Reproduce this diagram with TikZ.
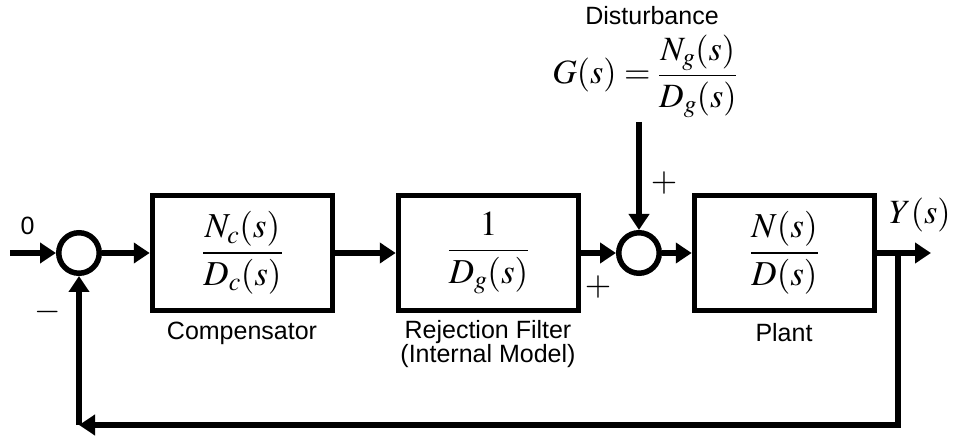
\documentclass[tikz,border=0pt]{standalone}
\usepackage{mathptmx}
\usepackage[no-math]{fontspec}
\setmainfont{Liberation Sans}
\usetikzlibrary{arrows.meta}
\begin{document}
\begin{tikzpicture}[x=1pt, y=-1pt,
	khoi/.style={draw, line width=5.5pt, minimum width=180pt, minimum height=115pt, inner sep=0pt, font=\fontsize{35}{38}\selectfont},
	tong/.style={draw, circle, line width=5.5pt, minimum size=40.5pt, inner sep=0pt},
	tinhieu/.style={line width=6pt, -{Triangle[length=16pt,width=20pt]}},
	chu/.style={font=\fontsize{25}{23}\selectfont, align=center},
	dau/.style={font=\fontsize{34}{36}\selectfont}]
	\useasboundingbox (0,0) rectangle (953,438);
	% Các khối
	\node[tong] (s1) at (79,253) {};
	\node[khoi] (comp) at (242.5,253) {$\displaystyle\frac{N_c(s)}{D_c(s)}$};
	\node[khoi] (filt) at (488.5,253) {$\displaystyle\frac{1}{D_g(s)}$};
	\node[tong] (s2) at (639,253) {};
	\node[khoi] (plant) at (784.5,253) {$\displaystyle\frac{N(s)}{D(s)}$};
	\coordinate (in) at (10,253);
	\coordinate (out) at (931,253);
	\coordinate (tap) at (898,253);
	\coordinate (bot) at (898,425);
	\coordinate (corner) at (s1 |- bot);
	\coordinate (dist) at (639,122);
	% Nhãn
	\node[chu] (lcomp) at (242,333) {Compensator};
	\node[chu] (lfilt) at (488,344) {Rejection Filter\\(Internal Model)};
	\node[chu] (lplant) at (784,333) {Plant};
	\node[chu] (ldist) at (652,16) {Disturbance};
	\node[font=\fontsize{34}{36}\selectfont] (gs) at (645,76) {$\displaystyle G(s)=\frac{N_g(s)}{D_g(s)}$};
	\node[chu] (zero) at (27.5,226) {0};
	\node[font=\fontsize{34}{36}\selectfont] (ys) at (920,215) {$Y(s)$};
	\node[dau] (p1) at (664,183) {$+$};
	\node[dau] (p2) at (598,287) {$+$};
	\node[dau] (m1) at (48,312) {$-$};
	% Mũi tên
	\draw[tinhieu] (in) -- (s1);
	\draw[tinhieu] (s1) -- (comp);
	\draw[tinhieu] (comp) -- (filt);
	\draw[tinhieu] (filt) -- (s2);
	\draw[tinhieu] (s2) -- (plant);
	\draw[tinhieu] (plant) -- (out);
	\draw[tinhieu] (dist) -- (s2);
	\draw[tinhieu] (tap) -- (bot) -- (corner);
	\draw[tinhieu] (corner) -- (s1);
\end{tikzpicture}
\end{document}
